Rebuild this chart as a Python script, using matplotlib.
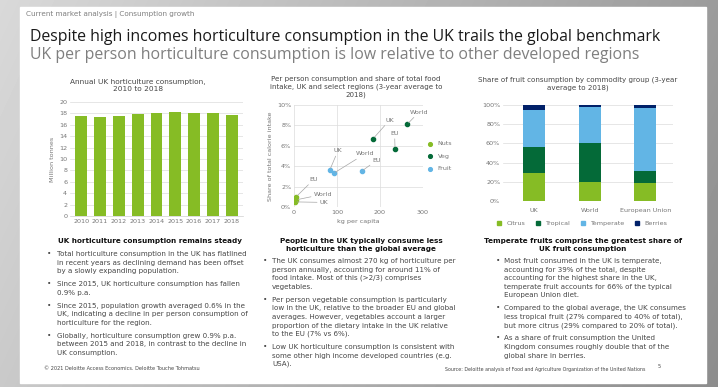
import numpy as np
import matplotlib.pyplot as plt
from matplotlib.patches import Rectangle
from matplotlib.lines import Line2D

# UK horticulture consumption, million tonnes
years = [2010, 2011, 2012, 2013, 2014, 2015, 2016, 2017, 2018]
uk_hort = [17.6, 17.4, 17.6, 17.9, 18.1, 18.2, 18.1, 18.1, 17.8]

# per person consumption (kg) and share of calorie intake (%)
regions = ['UK', 'World', 'EU']
nuts_kg = [3, 5, 5]
nuts_share = [0.5, 0.7, 1.0]
veg_kg = [184, 263, 235]
veg_share = [6.7, 8.1, 5.7]
fruit_kg = [83, 92, 157]
fruit_share = [3.6, 3.3, 3.5]

# share of fruit consumption by commodity group (%)
fruit_regions = ['UK', 'World', 'European Union']
citrus = [29, 20, 19]
tropical = [27, 40, 12]
temperate = [39, 37.5, 66]
berries = [5, 2.5, 3]

GREEN = '#86BC25'
DKGREEN = '#046A38'
BLUE = '#62B5E5'
NAVY = '#012169'
GRID = '#dcdcdc'
TXT = '#454545'
TICK = '#767676'

W, H = 718, 387
fig = plt.figure(figsize=(W / 100, H / 100), dpi=100)

# grey backdrop behind the slide
bg = fig.add_axes([0, 0, 1, 1])
xx, yy = np.meshgrid(np.linspace(0, 1, W), np.linspace(0, 1, H))
shade = 0.85 - 0.24 * xx - 0.06 * yy
bg.imshow(shade, cmap='gray', vmin=0, vmax=1, aspect='auto', extent=[0, W, H, 0])
bg.add_patch(Rectangle((20, 7), 686, 376, color='white'))
bg.set_xlim(0, W)
bg.set_ylim(H, 0)
bg.axis('off')


def box(x0, y0, x1, y1):
    return fig.add_axes([x0 / W, 1 - y1 / H, (x1 - x0) / W, (y1 - y0) / H])


def T(x, y, s, **kw):
    kw.setdefault('va', 'center')
    kw.setdefault('color', TXT)
    kw.setdefault('fontsize', 5.1)
    return fig.text(x / W, 1 - y / H, s, **kw)


def bullets(xb, xt, y, paras, pitch=8.6, gap=4.3):
    for lines in paras:
        T(xb, y, '•')
        for ln in lines:
            T(xt, y, ln)
            y += pitch
        y += gap


# header and titles
T(26, 15, 'Current market analysis | Consumption growth', fontsize=5.2, color='#7f7f7f')
T(30, 37, 'Despite high incomes horticulture consumption in the UK trails the global benchmark',
  fontsize=11.4, color='#1a1a1a', family='Open Sans')
T(30, 55, 'UK per person horticulture consumption is low relative to other developed regions',
  fontsize=11.4, color='#7f7f7f', family='Open Sans')


def style(ax):
    for s in ax.spines.values():
        s.set_visible(False)
    ax.tick_params(length=0, labelsize=4.6, labelcolor=TICK, pad=2)
    ax.set_axisbelow(True)


# chart 1: annual consumption
ax1 = box(70, 102, 243, 216)
ax1.bar(range(len(years)), uk_hort, width=0.62, color=GREEN)
ax1.set_ylim(0, 20)
ax1.set_yticks(range(0, 21, 2))
ax1.set_xlim(-0.6, len(years) - 0.4)
ax1.set_xticks(range(len(years)))
ax1.set_xticklabels(years)
ax1.yaxis.grid(True, color=GRID, lw=0.5)
style(ax1)
ax1.spines['bottom'].set_visible(True)
ax1.spines['bottom'].set_color('#cfcfcf')
ax1.spines['bottom'].set_linewidth(0.5)
ax1.set_ylabel('Million tonnes', fontsize=4.6, color=TICK, labelpad=3)
T(138, 85.5, 'Annual UK horticulture consumption,\n2010 to 2018', ha='center',
  fontsize=5.3, linespacing=1.35)

# chart 2: per person consumption vs calorie share
ax2 = box(294, 105, 423, 207)
ax2.scatter(nuts_kg, nuts_share, s=9, color=GREEN, zorder=3, label='Nuts')
ax2.scatter(veg_kg, veg_share, s=9, color=DKGREEN, zorder=3, label='Veg')
ax2.scatter(fruit_kg, fruit_share, s=9, color=BLUE, zorder=3, label='Fruit')
ax2.set_xlim(0, 300)
ax2.set_ylim(0, 10)
ax2.set_xticks([0, 100, 200, 300])
ax2.set_yticks(range(0, 11, 2))
ax2.set_yticklabels([f'{v}%' for v in range(0, 11, 2)])
ax2.grid(True, color=GRID, lw=0.5)
style(ax2)
ax2.set_xlabel('kg per capita', fontsize=4.6, color=TICK, labelpad=3)
ax2.set_ylabel('Share of total calorie intake', fontsize=4.6, color=TICK, labelpad=3)

label_pos = {
    'Nuts': [(60, 0.45), (46, 1.25), (36, 2.7)],
    'Veg': [(212, 8.5), (269, 9.3), (224, 7.2)],
    'Fruit': [(92, 5.5), (143, 5.2), (183, 4.6)],
}
for name, kg, share in [('Nuts', nuts_kg, nuts_share), ('Veg', veg_kg, veg_share),
                        ('Fruit', fruit_kg, fruit_share)]:
    for reg, x, y, tp in zip(regions, kg, share, label_pos[name]):
        ax2.annotate(reg, xy=(x, y), xytext=tp, fontsize=4.6, color=TICK, va='center',
                     arrowprops=dict(arrowstyle='-', color='#a6a6a6', lw=0.5,
                                     shrinkA=0, shrinkB=1.5))
ax2.legend(loc='center left', bbox_to_anchor=(0.96, 0.5), frameon=False, fontsize=4.6,
           labelcolor=TICK, handletextpad=0.2, markerscale=0.9, labelspacing=1.1)
T(356, 87, 'Per person consumption and share of total food\nintake, UK and select regions (3-year average to\n2018)',
  ha='center', fontsize=5.1, linespacing=1.35)

# chart 3: fruit consumption shares
ax3 = box(503, 105, 673, 201)
pos = np.arange(len(fruit_regions))
bottom = np.zeros(len(fruit_regions))
for vals, col, lab in [(citrus, GREEN, 'Citrus'), (tropical, DKGREEN, 'Tropical'),
                       (temperate, BLUE, 'Temperate'), (berries, NAVY, 'Berries')]:
    ax3.bar(pos, vals, bottom=bottom, width=0.4, color=col, label=lab)
    bottom += np.array(vals)
ax3.set_xlim(-0.56, 2.5)
ax3.set_ylim(0, 100)
ax3.set_yticks(range(0, 101, 20))
ax3.set_yticklabels([f'{v}%' for v in range(0, 101, 20)])
ax3.set_xticks(pos)
ax3.set_xticklabels(fruit_regions)
ax3.yaxis.grid(True, color=GRID, lw=0.5)
style(ax3)
ax3.tick_params(axis='x', pad=5)
handles = [Line2D([], [], marker='s', ls='', color=c, markersize=3)
           for c in [GREEN, DKGREEN, BLUE, NAVY]]
fig.legend(handles, ['Citrus', 'Tropical', 'Temperate', 'Berries'], loc='center',
           bbox_to_anchor=(580 / W, 1 - 223 / H), ncol=4, frameon=False, fontsize=4.6,
           labelcolor=TICK, handletextpad=0.1, columnspacing=1.0)
T(578, 84, 'Share of fruit consumption by commodity group (3-year\naverage to 2018)',
  ha='center', fontsize=5.1, linespacing=1.35)

# commentary columns
T(150, 241, 'UK horticulture consumption remains steady', ha='center', fontsize=5.2,
  weight='bold', color='#111111')
bullets(47, 57, 254, [
    ['Total horticulture consumption in the UK has flatlined',
     'in recent years as declining demand has been offset',
     'by a slowly expanding population.'],
    ['Since 2015, UK horticulture consumption has fallen', '0.9% p.a.'],
    ['Since 2015, population growth averaged 0.6% in the',
     'UK, indicating a decline in per person consumption of',
     'horticulture for the region.'],
    ['Globally, horticulture consumption grew 0.9% p.a.',
     'between 2015 and 2018, in contrast to the decline in',
     'UK consumption.'],
])

T(361, 245.5, 'People in the UK typically consume less\nhorticulture than the global average',
  ha='center', fontsize=5.2, weight='bold', color='#111111', linespacing=1.4)
bullets(263, 272, 261, [
    ['The UK consumes almost 270 kg of horticulture per',
     'person annually, accounting for around 11% of',
     'food intake. Most of this (>2/3) comprises',
     'vegetables.'],
    ['Per person vegetable consumption is particularly',
     'low in the UK, relative to the broader EU and global',
     'averages. However, vegetables account a larger',
     'proportion of the dietary intake in the UK relative',
     'to the EU (7% vs 6%).'],
    ['Low UK horticulture consumption is consistent with',
     'some other high income developed countries (e.g.',
     'USA).'],
])

T(583, 245.5, 'Temperate fruits comprise the greatest share of\nUK fruit consumption',
  ha='center', fontsize=5.2, weight='bold', color='#111111', linespacing=1.4)
bullets(496, 504, 261, [
    ['Most fruit consumed in the UK is temperate,',
     'accounting for 39% of the total, despite',
     'accounting for the highest share in the UK,',
     'temperate fruit accounts for 66% of the typical',
     'European Union diet.'],
    ['Compared to the global average, the UK consumes',
     'less tropical fruit (27% compared to 40% of total),',
     'but more citrus (29% compared to 20% of total).'],
    ['As a share of fruit consumption the United',
     'Kingdom consumes roughly double that of the',
     'global share in berries.'],
])

# footer
T(44, 368, '© 2021 Deloitte Access Economics. Deloitte Touche Tohmatsu', fontsize=3.6)
T(645, 370, 'Source: Deloitte analysis of Food and Agriculture Organization of the United Nations',
  ha='right', fontsize=3.4)
T(658, 367, '5', fontsize=3.6)

fig.savefig('out.png', dpi=100)
